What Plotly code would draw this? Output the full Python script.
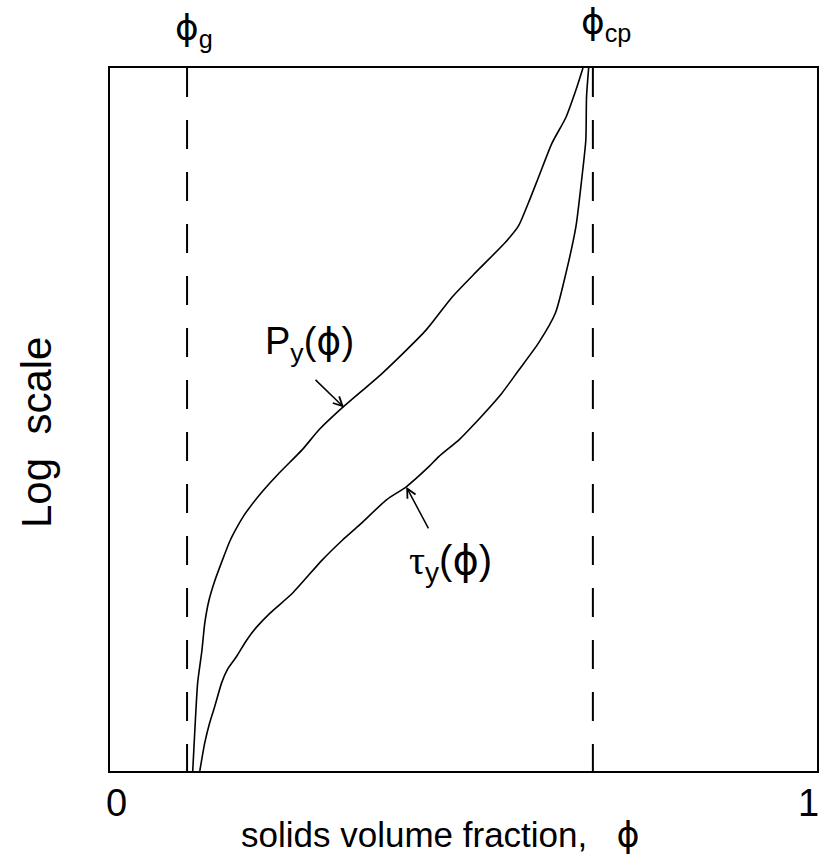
import plotly.graph_objects as go

# ---- data ----
# solids volume fraction phi, and log10 of the (arbitrary) quantity
phi_P = [0.117, 0.121, 0.124, 0.130, 0.134, 0.140, 0.148, 0.159, 0.169, 0.176,
         0.190, 0.214, 0.237, 0.272, 0.296, 0.329, 0.385, 0.447, 0.484, 0.518,
         0.560, 0.578, 0.592, 0.606, 0.625, 0.645, 0.659, 0.669]
log_P = [0.00, 0.54, 0.88, 1.20, 1.47, 1.70, 1.89, 2.10, 2.28, 2.38,
         2.55, 2.77, 2.95, 3.20, 3.40, 3.62, 3.96, 4.39, 4.72, 4.97,
         5.27, 5.43, 5.66, 5.91, 6.25, 6.51, 6.78, 7.00]

phi_T = [0.127, 0.134, 0.141, 0.148, 0.158, 0.166, 0.179, 0.193, 0.207, 0.226,
         0.258, 0.300, 0.329, 0.353, 0.391, 0.419, 0.451, 0.465, 0.494, 0.512,
         0.554, 0.578, 0.606, 0.630, 0.645, 0.659, 0.667, 0.673, 0.674, 0.677]
log_T = [0.00, 0.28, 0.48, 0.64, 0.88, 1.01, 1.14, 1.30, 1.43, 1.57,
         1.77, 2.10, 2.30, 2.45, 2.70, 2.83, 3.03, 3.13, 3.30, 3.43,
         3.76, 3.99, 4.26, 4.56, 4.96, 5.42, 5.88, 6.28, 6.71, 7.00]

phi_g = 0.109
phi_cp = 0.683

x_tick_positions = [0, 1]
x_tick_labels = ["0", "1"]

y_log_range = [0, 7]

FONT = "Liberation Sans, Arial, sans-serif"
SERIF = "Liberation Serif, Times New Roman, serif"
PHI = "<span style='font-family:DejaVu Sans'>\u03d5</span>"

fig = go.Figure()
fig.add_trace(go.Scatter(x=phi_P, y=[10 ** v for v in log_P], mode="lines",
                         line=dict(color="black", width=1.6, shape="spline", smoothing=0.6),
                         showlegend=False))
fig.add_trace(go.Scatter(x=phi_T, y=[10 ** v for v in log_T], mode="lines",
                         line=dict(color="black", width=1.6, shape="spline", smoothing=0.6),
                         showlegend=False))

for xv in (phi_g, phi_cp):
    fig.add_shape(type="line", xref="x", yref="paper", x0=xv, x1=xv, y0=1, y1=0,
                  line=dict(color="black", width=2, dash="29px,23px"))

ann = []
# tick labels
ann.append(dict(text=x_tick_labels[0], x=x_tick_positions[0], xref="x", xanchor="center", xshift=6,
                y=-0.0455, yref="paper", yanchor="middle", showarrow=False,
                font=dict(size=38, family=FONT, color="black")))
ann.append(dict(text=x_tick_labels[1], x=x_tick_positions[1], xref="x", xanchor="right", xshift=4,
                y=-0.0455, yref="paper", yanchor="middle", showarrow=False,
                font=dict(size=38, family=FONT, color="black")))
# axis titles
ann.append(dict(text="solids volume fraction,\u00a0\u00a0\u00a0" + PHI, x=0.183, xref="paper", xanchor="left",
                y=-0.091, yref="paper", yanchor="middle", showarrow=False,
                font=dict(size=35, family=FONT, color="black")))
ann.append(dict(text="Log\u00a0\u00a0scale", x=-0.103, xref="paper", xanchor="center",
                y=0.481, yref="paper", yanchor="middle", textangle=-90, showarrow=False,
                font=dict(size=42, family=FONT, color="black")))
# top labels
ann.append(dict(text=PHI + "<sub>g</sub>", x=phi_g, xref="x", xanchor="left", xshift=-14,
                y=1, yref="paper", yanchor="bottom", yshift=13, showarrow=False,
                font=dict(size=36, family=FONT, color="black")))
ann.append(dict(text=PHI + "<sub>cp</sub>", x=phi_cp, xref="x", xanchor="left", xshift=-14,
                y=1, yref="paper", yanchor="bottom", yshift=19, showarrow=False,
                font=dict(size=36, family=FONT, color="black")))
# curve labels
ann.append(dict(text="P<sub>y</sub>(" + PHI + ")", x=0.282, xref="x", y=4.26, yref="y",
                xanchor="center", yanchor="middle", showarrow=False,
                font=dict(size=38, family=FONT, color="black")))
ann.append(dict(text="", x=0.331, xref="x", y=3.62, yref="y", ax=-30, ay=-29,
                showarrow=True, arrowhead=5, arrowsize=1.2, arrowwidth=1.5, arrowcolor="black"))
ann.append(dict(text="<span style='font-family:" + SERIF + "'>\u03c4</span><sub>y</sub>(" + PHI + ")",
                x=0.482, xref="x", y=2.08, yref="y",
                xanchor="center", yanchor="middle", showarrow=False,
                font=dict(size=40, family=FONT, color="black")))
ann.append(dict(text="", x=0.419, xref="x", y=2.83, yref="y", ax=23, ay=43,
                showarrow=True, arrowhead=5, arrowsize=1.2, arrowwidth=1.5, arrowcolor="black"))

fig.update_layout(
    width=821, height=863,
    margin=dict(l=110, r=2, t=68, b=92),
    paper_bgcolor="white", plot_bgcolor="white",
    showlegend=False,
    annotations=ann,
    xaxis=dict(range=[0, 1], showline=True, mirror=True, linecolor="black", linewidth=2,
               showgrid=False, zeroline=False, showticklabels=False, ticks=""),
    yaxis=dict(type="log", range=y_log_range, showline=True, mirror=True, linecolor="black",
               linewidth=2, showgrid=False, zeroline=False, showticklabels=False, ticks=""),
)

fig.write_html("out.html", config={"displayModeBar": False},
               post_script="document.body.style.margin='0px';document.body.style.overflow='hidden';")
